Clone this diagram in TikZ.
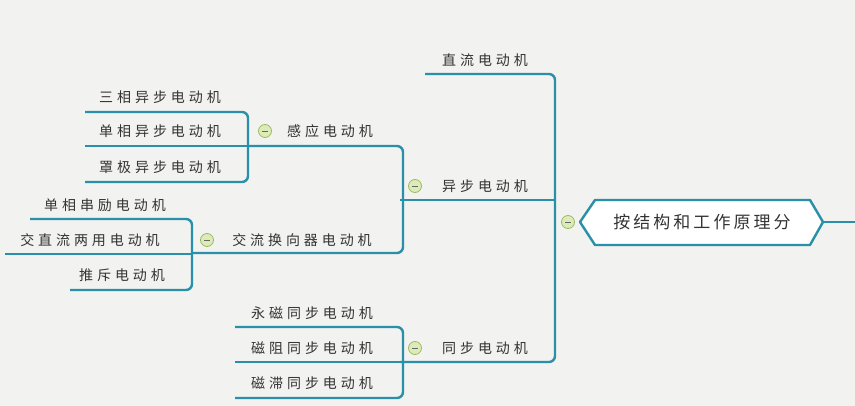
\documentclass[tikz,border=0pt]{standalone}
\usepackage{fontspec}
\setmainfont{Noto Sans CJK SC}
\newfontfamily\spcfont[LetterSpace=28]{Noto Sans CJK SC}
\newfontfamily\rootfont[LetterSpace=18]{Noto Sans CJK SC}
\definecolor{ln}{HTML}{2A8FA8}
\definecolor{bg}{HTML}{F2F2F0}
\definecolor{cf}{HTML}{DDEBB8}
\definecolor{cd}{HTML}{9DBB63}
\tikzset{
 lbl/.style={font=\spcfont\fontsize{14}{14}\selectfont, text=black!80, inner sep=0pt},
 lk/.style={draw=ln, line width=2.4pt, rounded corners=6pt},
 col/.style={circle, draw=cd, fill=cf, line width=0.8pt, minimum size=13pt, inner sep=0pt,
   path picture={\draw[black!60,line width=0.7pt] ([xshift=-3pt]path picture bounding box.center)--([xshift=3pt]path picture bounding box.center);}}
}
\begin{document}
\begin{tikzpicture}[x=1pt,y=-1pt]
\fill[bg] (0,0) rectangle (855,406);
\useasboundingbox (0,0) rectangle (855,406);
% connectors
\draw[lk] (822,222)--(855,222);
\draw[lk] (425,74)--(555,74)--(555,362)--(400,362);
\draw[lk] (555,200)--(400,200);
\draw[lk] (248,146)--(403,146)--(403,200);
\draw[lk] (403,200)--(403,253)--(192,253);
\draw[lk] (85,112)--(248,112)--(248,182)--(85,182);
\draw[lk] (85,146)--(248,146);
\draw[lk] (30,219)--(192,219)--(192,290)--(70,290);
\draw[lk] (5,254)--(192,254);
\draw[lk] (235,327)--(403,327)--(403,398)--(235,398);
\draw[lk] (235,362)--(403,362);
% root
\draw[draw=ln, line width=2.4pt, fill=white, line join=round]
  (580,222)--(595,200)--(810,200)--(823,222)--(810,245)--(595,245)--cycle;
\node[font=\rootfont\fontsize{17}{17}\selectfont, text=black!80, inner sep=0pt] (root) at (702,222) {按结构和工作原理分};
\node[col] (c0) at (568,222) {};
% level 1
\node[lbl] (dl) at (485,60) {直流电动机};
\node[lbl] (yb) at (485,186) {异步电动机};
\node[col] (c1) at (415,186) {};
\node[lbl] (tb) at (485,348) {同步电动机};
\node[col] (c2) at (415,348) {};
% level 2
\node[lbl] (gy) at (330,131) {感应电动机};
\node[col] (c3) at (265,131) {};
\node[lbl] (jl) at (302,240) {交流换向器电动机};
\node[col] (c4) at (207,240) {};
% level 3
\node[lbl] (a1) at (160,97) {三相异步电动机};
\node[lbl] (a2) at (160,131) {单相异步电动机};
\node[lbl] (a3) at (160,167) {罩极异步电动机};
\node[lbl] (b1) at (105,205) {单相串励电动机};
\node[lbl] (b2) at (90,240) {交直流两用电动机};
\node[lbl] (b3) at (122,275) {推斥电动机};
\node[lbl] (s1) at (312,313) {永磁同步电动机};
\node[lbl] (s2) at (312,348) {磁阻同步电动机};
\node[lbl] (s3) at (312,383) {磁滞同步电动机};
\end{tikzpicture}
\end{document}
